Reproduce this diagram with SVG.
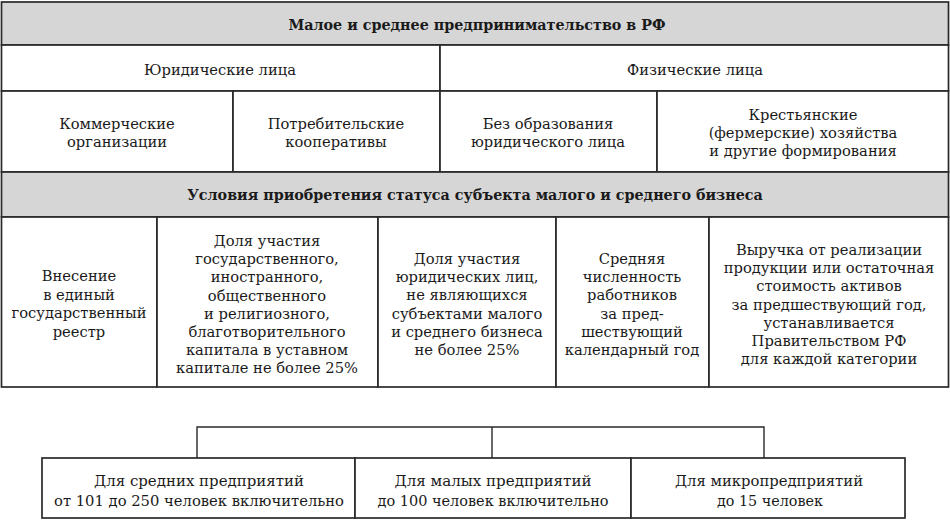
<svg xmlns="http://www.w3.org/2000/svg" width="950" height="526" viewBox="0 0 950 526">
<style>
.c{fill:#fff;stroke:#2a2a2a;stroke-width:1.7}
.g{fill:#d6d6d6;stroke:#2a2a2a;stroke-width:1.7}
text{font-family:"DejaVu Serif","Liberation Serif",serif;font-size:14.7px;fill:#1a1a1a;text-anchor:middle}
.b{font-weight:bold;font-size:14.3px}
.n{font-size:15px}
.k{fill:none;stroke:#2a2a2a;stroke-width:1.4}
</style>
<rect x="0" y="0" width="950" height="526" fill="#fff"/>
<g id="header"><rect class="g" x="1.5" y="2" width="947" height="43"/><text class="b" x="477" y="30">Малое и среднее предпринимательство в РФ</text></g>
<g id="legal"><rect class="c" x="1.5" y="45" width="438.5" height="46"/><text x="220" y="75">Юридические лица</text></g>
<g id="physical"><rect class="c" x="440" y="45" width="508.5" height="46"/><text x="695" y="75">Физические лица</text></g>
<g id="commercial"><rect class="c" x="1.5" y="91" width="231.5" height="81"/><text x="117" y="129">Коммерческие</text><text x="117" y="147">организации</text></g>
<g id="consumer"><rect class="c" x="233" y="91" width="207" height="81"/><text x="336" y="129">Потребительские</text><text x="336" y="147">кооперативы</text></g>
<g id="nolegal"><rect class="c" x="440" y="91" width="217" height="81"/><text x="548" y="129">Без образования</text><text x="548" y="147">юридического лица</text></g>
<g id="farms"><rect class="c" x="657" y="91" width="291.5" height="81"/><text x="803" y="120">Крестьянские</text><text x="803" y="138">(фермерские) хозяйства</text><text x="803" y="156">и другие формирования</text></g>
<g id="conditions"><rect class="g" x="1.5" y="172" width="947" height="45"/><text class="b" x="475" y="200">Условия приобретения статуса субъекта малого и среднего бизнеса</text></g>
<g id="register"><rect class="c" x="1.5" y="217" width="155.5" height="170"/><text x="79" y="281">Внесение</text><text x="79" y="299.5">в единый</text><text x="79" y="318">государственный</text><text x="79" y="336.5">реестр</text></g>
<g id="share-state"><rect class="c" x="157" y="217" width="221" height="170"/><text x="267" y="246">Доля участия</text><text x="267" y="264.2">государственного,</text><text x="267" y="282.4">иностранного,</text><text x="267" y="300.6">общественного</text><text x="267" y="318.8">и религиозного,</text><text x="267" y="337">благотворительного</text><text x="267" y="355.2">капитала в уставном</text><text x="267" y="373.4">капитале не более 25%</text></g>
<g id="share-legal"><rect class="c" x="378" y="217" width="178" height="170"/><text x="467" y="264">Доля участия</text><text x="467" y="282.2">юридических лиц,</text><text x="467" y="300.4">не являющихся</text><text x="467" y="318.6">субъектами малого</text><text x="467" y="336.8">и среднего бизнеса</text><text x="467" y="355">не более 25%</text></g>
<g id="headcount"><rect class="c" x="556" y="217" width="153" height="170"/><text x="632" y="264">Средняя</text><text x="632" y="282.2">численность</text><text x="632" y="300.4">работников</text><text x="632" y="318.6">за пред-</text><text x="632" y="336.8">шествующий</text><text x="632" y="355">календарный год</text></g>
<g id="revenue"><rect class="c" x="709" y="217" width="239.5" height="170"/><text x="829" y="255">Выручка от реализации</text><text x="829" y="273.2">продукции или остаточная</text><text x="829" y="291.4">стоимость активов</text><text x="829" y="309.6">за предшествующий год,</text><text x="829" y="327.8">устанавливается</text><text x="829" y="346">Правительством РФ</text><text x="829" y="364.2">для каждой категории</text></g>
<g id="connectors"><path class="k" d="M197 458V427H764V458M492 427V458"/></g>
<g id="medium"><rect class="c" x="42" y="458" width="313" height="60"/><text class="n" x="199" y="485.5" textLength="210" lengthAdjust="spacingAndGlyphs">Для средних предприятий</text><text class="n" x="199" y="506" textLength="290" lengthAdjust="spacingAndGlyphs">от 101 до 250 человек включительно</text></g>
<g id="small"><rect class="c" x="355" y="458" width="276" height="60"/><text class="n" x="493" y="485.5" textLength="197" lengthAdjust="spacingAndGlyphs">Для малых предприятий</text><text class="n" x="493" y="506" textLength="231" lengthAdjust="spacingAndGlyphs">до 100 человек включительно</text></g>
<g id="micro"><rect class="c" x="631" y="458" width="274" height="60"/><text class="n" x="769" y="485.5" textLength="188" lengthAdjust="spacingAndGlyphs">Для микропредприятий</text><text class="n" x="770" y="506" textLength="106" lengthAdjust="spacingAndGlyphs">до 15 человек</text></g>
</svg>
